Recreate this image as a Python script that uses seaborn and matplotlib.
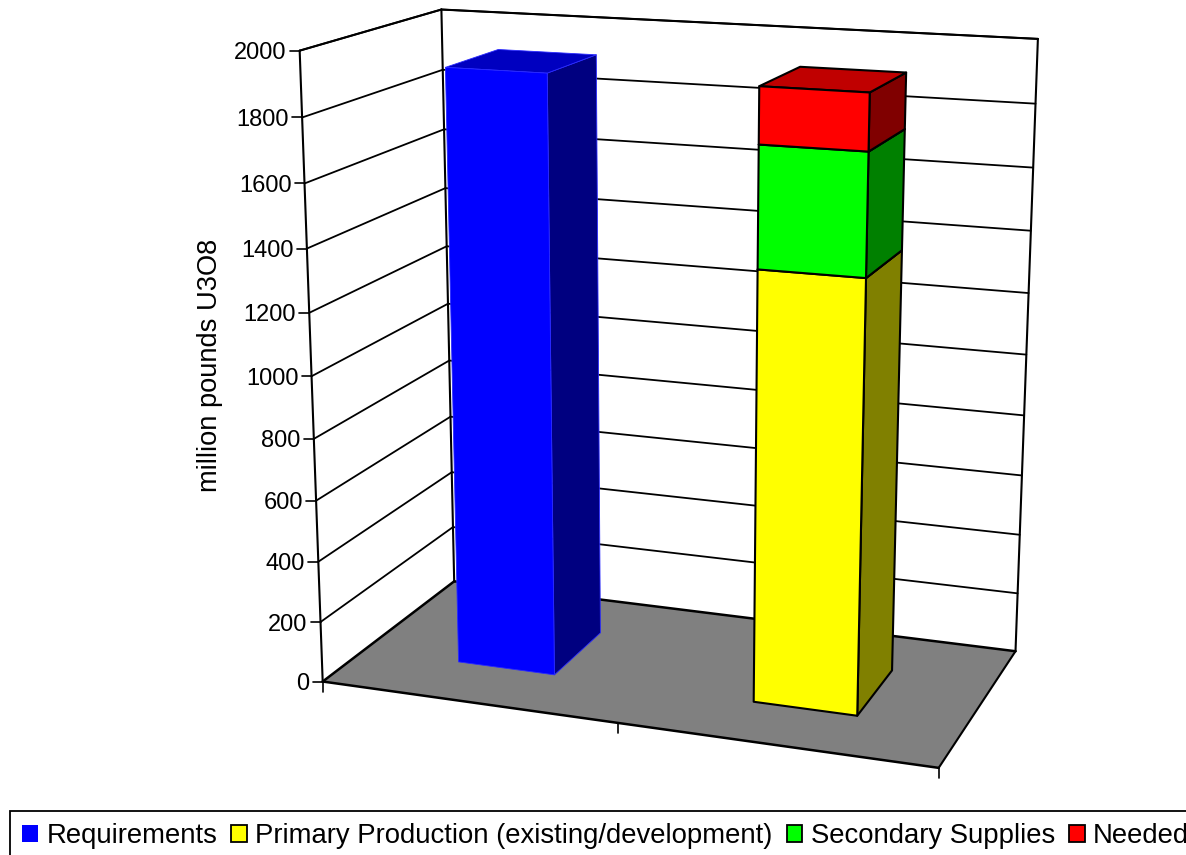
# Libraries
import numpy as np
import pandas as pd
import seaborn as sns
import matplotlib.pyplot as plt
from matplotlib.patches import Patch

# -------------------------
# Data
# -------------------------
categories = ['Demand', 'Supply']
requirements = [1925, 0]
primary_production = [0, 1375]
secondary_supplies = [0, 375]
needed = [0, 172]
series_names = ['Requirements',
                'Primary Production (existing/development)',
                'Secondary Supplies',
                'Needed']
y_ticks = [0, 200, 400, 600, 800, 1000, 1200, 1400, 1600, 1800, 2000]
y_label = 'million pounds U3O8'

# -------------------------
# Configuration
# -------------------------
sns.set_theme(style='white')
plt.rcParams['font.family'] = ['Liberation Sans', 'DejaVu Sans']

# Colours (face, top, side) per series
front = sns.color_palette(['#0000ff', '#ffff00', '#00ff00', '#ff0000'])
top = sns.color_palette(['#0000c0', '#c0c000', '#00c000', '#c00000'])
side = sns.color_palette(['#000080', '#808000', '#008000', '#800000'])

# -------------------------
# Camera
# -------------------------
# Box corners as (x, depth, z) matched to where they sit on the canvas
z_max = y_ticks[-1]
box = np.array([[0, 0, 0], [1, 0, 0], [1, 1, 0], [0, 1, 0],
                [0, 0, 1], [0, 1, 1], [1, 1, 1]], dtype=float)
canvas = np.array([[323, 682], [938, 768], [1016, 651], [454, 581],
                   [300, 50], [441, 10], [1038, 39]], dtype=float)

# Solve the 3x4 projection from the correspondences
rows = []
for (x, y, z), (u, v) in zip(box, canvas):
    rows.append([x, y, z, 1, 0, 0, 0, 0, -u*x, -u*y, -u*z, -u])
    rows.append([0, 0, 0, 0, x, y, z, 1, -v*x, -v*y, -v*z, -v])
P = np.linalg.svd(np.array(rows))[2][-1].reshape(3, 4)


def project(x, y, value):
    """Map (x, depth, value) onto the canvas."""
    p = P @ np.array([x, y, value / z_max, 1.0])
    return p[0] / p[2], p[1] / p[2]


def draw_line(ax, a, b, lw=1.5):
    """Draw a straight line between two 3D points."""
    pa, pb = project(*a), project(*b)
    ax.plot([pa[0], pb[0]], [pa[1], pb[1]], color='black', lw=lw,
            solid_capstyle='round', zorder=2)


def draw_block(ax, x0, x1, y0, y1, z0, z1, colors, edge, lw):
    """Draw the three visible faces of one block."""
    faces = [([(x1, y0, z0), (x1, y1, z0), (x1, y1, z1), (x1, y0, z1)], colors[2]),
             ([(x0, y0, z1), (x1, y0, z1), (x1, y1, z1), (x0, y1, z1)], colors[1]),
             ([(x0, y0, z0), (x1, y0, z0), (x1, y0, z1), (x0, y0, z1)], colors[0])]
    for corners, color in faces:
        xy = np.array([project(*c) for c in corners])
        ax.fill(xy[:, 0], xy[:, 1], facecolor=color, edgecolor=edge,
                lw=lw, joinstyle='round', zorder=3)


# -------------------------
# Figure
# -------------------------
f, ax = plt.subplots(figsize=(11.86, 8.55), dpi=100)
ax.set_position([0, 0, 1, 1])
ax.set_xlim(0, 1186)
ax.set_ylim(855, 0)
ax.axis('off')

# Floor
floor = np.array([project(*c) for c in
                  [(0, 0, 0), (1, 0, 0), (1, 1, 0), (0, 1, 0)]])
ax.fill(floor[:, 0], floor[:, 1], facecolor='#808080', edgecolor='none', zorder=1)

# Walls and gridlines
for tick in y_ticks[1:]:
    draw_line(ax, (0, 0, tick), (0, 1, tick), lw=1.3)
    draw_line(ax, (0, 1, tick), (1, 1, tick), lw=1.3)
draw_line(ax, (0, 0, 0), (0, 0, z_max))
draw_line(ax, (0, 1, 0), (0, 1, z_max))
draw_line(ax, (1, 1, 0), (1, 1, z_max))
draw_line(ax, (0, 0, z_max), (0, 1, z_max))
draw_line(ax, (0, 1, z_max), (1, 1, z_max))
draw_line(ax, (0, 0, 0), (1, 0, 0), lw=1.8)
draw_line(ax, (1, 0, 0), (1, 1, 0))
draw_line(ax, (1, 1, 0), (0, 1, 0), lw=1.8)
draw_line(ax, (0, 1, 0), (0, 0, 0), lw=1.8)

# Value axis ticks and labels
for tick in y_ticks:
    u, v = project(0, 0, tick)
    ax.plot([u - 10, u], [v, v], color='black', lw=1.2, zorder=2)
    ax.text(u - 13, v, str(tick), ha='right', va='center_baseline',
            fontsize=17, color='black')

# Category axis ticks
for x in [0, 0.5, 1]:
    u, v = project(x, 0, 0)
    ax.plot([u, u], [v, v + 10], color='black', lw=1.2, zorder=2)

ax.text(210, 365, y_label, rotation=90, ha='center', va='center',
        fontsize=19.6, color='black')

# Bars
table = pd.DataFrame({'Requirements': requirements,
                      'Primary': primary_production,
                      'Secondary': secondary_supplies,
                      'Needed': needed}, index=categories)
bar_edges = [(1/6, 2/6), (4/6, 5/6)]
for (x0, x1), (_, row) in zip(bar_edges, table.iterrows()):
    bottom = 0
    for i, value in enumerate(row.values):
        if value == 0:
            continue
        edge, lw = ('#2a2aff', 0.6) if i == 0 else ('black', 1.5)
        draw_block(ax, x0, x1, 0.3, 0.7, bottom, bottom + value,
                   (front[i], top[i], side[i]), edge, lw)
        bottom += value

# Legend
handles = [Patch(facecolor=c, edgecolor='#0000ff' if i == 0 else 'black',
                 lw=0 if i == 0 else 1.3)
           for i, c in enumerate(front)]
legend = ax.legend(handles, series_names, ncol=4, loc='upper left',
                   bbox_to_anchor=(10, 811), bbox_transform=ax.transData,
                   fontsize=19.8, labelcolor='black', frameon=True,
                   fancybox=False, edgecolor='black', framealpha=1,
                   borderaxespad=0, borderpad=0.45, handlelength=0.58,
                   handleheight=0.58, handletextpad=0.3, columnspacing=0.5,
                   labelspacing=0)
legend.get_frame().set_linewidth(1.3)

# Save
plt.savefig('out.png', dpi=100)
